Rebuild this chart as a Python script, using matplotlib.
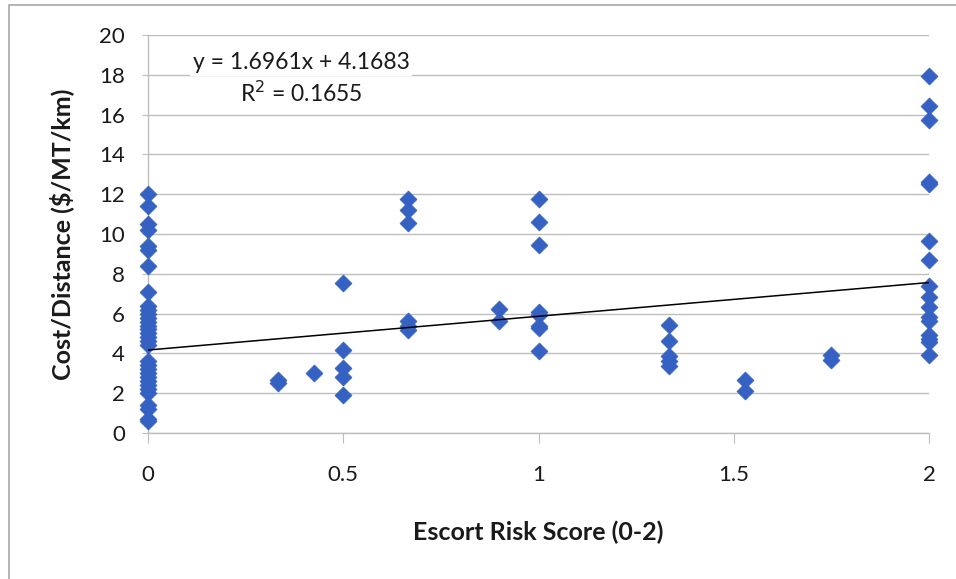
import numpy as np
import matplotlib.pyplot as plt
from matplotlib.patches import Rectangle

# Escort risk score groups and the cost/distance values read per group
risk_scores = [0, 0.333, 0.425, 0.5, 0.667, 0.9, 1.0, 1.333, 1.53, 1.75, 2.0]

cost_0 = [12.0, 11.4, 10.5, 10.2, 9.4, 9.2, 8.4, 7.1, 6.4, 6.2, 6.0, 5.8,
          5.6, 5.4, 5.2, 5.0, 4.8, 4.6, 4.4, 3.6, 3.4, 3.2, 3.0, 2.8, 2.6,
          2.4, 2.2, 2.0, 1.4, 1.2, 0.7, 0.6]
cost_033 = [2.65, 2.5]
cost_043 = [3.0]
cost_05 = [7.55, 4.15, 3.25, 2.8, 1.9]
cost_067 = [11.75, 11.2, 10.55, 5.65, 5.4, 5.15]
cost_09 = [6.25, 5.65]
cost_1 = [11.75, 10.6, 9.45, 6.1, 5.95, 5.4, 5.3, 4.1]
cost_133 = [5.45, 4.6, 3.85, 3.6, 3.35]
cost_153 = [2.65, 2.1]
cost_175 = [3.9, 3.65]
cost_2 = [17.95, 16.45, 15.75, 12.6, 12.5, 9.65, 8.7, 7.4, 6.85, 6.35,
          5.85, 5.65, 4.9, 4.7, 4.55, 3.9]

cost_groups = [cost_0, cost_033, cost_043, cost_05, cost_067, cost_09,
               cost_1, cost_133, cost_153, cost_175, cost_2]

# linear trendline as reported on the chart
slope = 1.6961
intercept = 4.1683
r_squared = 0.1655

x_vals = np.concatenate([[s] * len(c) for s, c in zip(risk_scores, cost_groups)])
y_vals = np.concatenate(cost_groups)

plt.rcParams['font.family'] = ['Lato', 'DejaVu Sans']

fig = plt.figure(figsize=(9.56, 5.79), dpi=100)
ax = fig.add_axes([0.1548, 0.2522, 0.817, 0.6874])

grid_col = '#BDBDBD'
txt_col = '#1A1A1A'
ax.set_xlim(0, 2)
ax.set_ylim(0, 20)
ax.set_yticks(np.arange(0, 21, 2))
ax.set_xticks([0, 0.5, 1, 1.5, 2])
ax.set_xticklabels(['0', '0.5', '1', '1.5', '2'])
ax.yaxis.grid(True, color=grid_col, linewidth=1)
ax.set_axisbelow(True)

for side in ['top', 'right']:
    ax.spines[side].set_visible(False)
for side in ['left', 'bottom']:
    ax.spines[side].set_color(grid_col)
    ax.spines[side].set_linewidth(1)

ax.tick_params(axis='y', length=4.5, color=grid_col, labelsize=16, pad=12,
               labelcolor=txt_col)
ax.tick_params(axis='x', length=7, color=grid_col, labelsize=16, pad=16,
               labelcolor=txt_col)

ax.scatter(x_vals, y_vals, marker='D', s=75, color='#3561C2',
           edgecolors='#3561C2', linewidths=0.5, zorder=3, clip_on=False)

xt = np.array([0, 2])
ax.plot(xt, slope * xt + intercept, color='black', linewidth=1.1, zorder=4)

ax.text(0.392, 18.6, f'y = {slope:.4f}x + {intercept:.4f}', ha='center',
        va='center', fontsize=16.5, color=txt_col,
        bbox=dict(facecolor='white', edgecolor='none', pad=2))
ax.text(0.392, 17.05, f'R$^2$ = {r_squared:.4f}', ha='center', va='center',
        fontsize=16.5, color=txt_col,
        bbox=dict(facecolor='white', edgecolor='none', pad=1))

ax.set_xlabel('Escort Risk Score (0-2)', fontsize=18, fontweight='bold',
              labelpad=26, color=txt_col)
ax.set_ylabel('Cost/Distance ($/MT/km)', fontsize=18, fontweight='bold',
              labelpad=18, color=txt_col)

# thin chart-area border as in the spreadsheet export
fig.patches.append(Rectangle((0.009, -0.02), 1.2, 1.011, transform=fig.transFigure,
                             fill=False, edgecolor='#A8A8A8', linewidth=1.2))

fig.savefig('out.png', dpi=100)
